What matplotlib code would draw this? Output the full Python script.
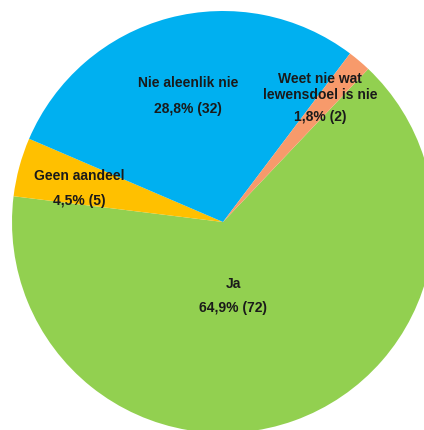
import matplotlib
matplotlib.use("Agg")
import matplotlib.pyplot as plt
import numpy as np

labels = ["Ja", "Geen aandeel", "Nie aleenlik nie", "Weet nie wat\nlewensdoel is nie"]
counts = [72, 5, 32, 2]
pct_text = ["64,9%", "4,5%", "28,8%", "1,8%"]
colors = ["#92D050", "#FFC000", "#00B0F0", "#F79A6B"]

# label placement: (radius fraction, angle deg), px offsets of name / value lines
label_pos = [(0.354, -82.3), (0.70, 166.6), (0.62, 105.5), (0.75, 52.2)]
name_dy = [12, 12, 13, 10]
val_dy = [-12, -13, -13, -20]

plt.rcParams['font.family'] = ['Liberation Sans', 'DejaVu Sans']

fig = plt.figure(figsize=(4.24, 4.30), dpi=100)
ax = fig.add_axes([0, 0, 1, 1])
ax.pie(counts, colors=colors, startangle=46.5, counterclock=False,
       radius=1, wedgeprops=dict(linewidth=0))
ax.set_aspect("equal")
ax.set_xlim(-223 / 211, (424 - 223) / 211)
ax.set_ylim(-208 / 211, 222 / 211)
ax.axis("off")

for i, lab in enumerate(labels):
    r, a = label_pos[i]
    x, y = r * np.cos(np.radians(a)), r * np.sin(np.radians(a))
    ax.annotate(lab, (x, y), xytext=(0, name_dy[i] * 0.72), textcoords="offset points",
                ha="center", va="center", fontsize=10, fontweight="bold",
                color="#1a1a1a", linespacing=1.2)
    ax.annotate(f"{pct_text[i]} ({counts[i]})", (x, y), xytext=(0, val_dy[i] * 0.72),
                textcoords="offset points", ha="center", va="center",
                fontsize=10, fontweight="bold", color="#1a1a1a")

fig.savefig("out.png", dpi=100)
